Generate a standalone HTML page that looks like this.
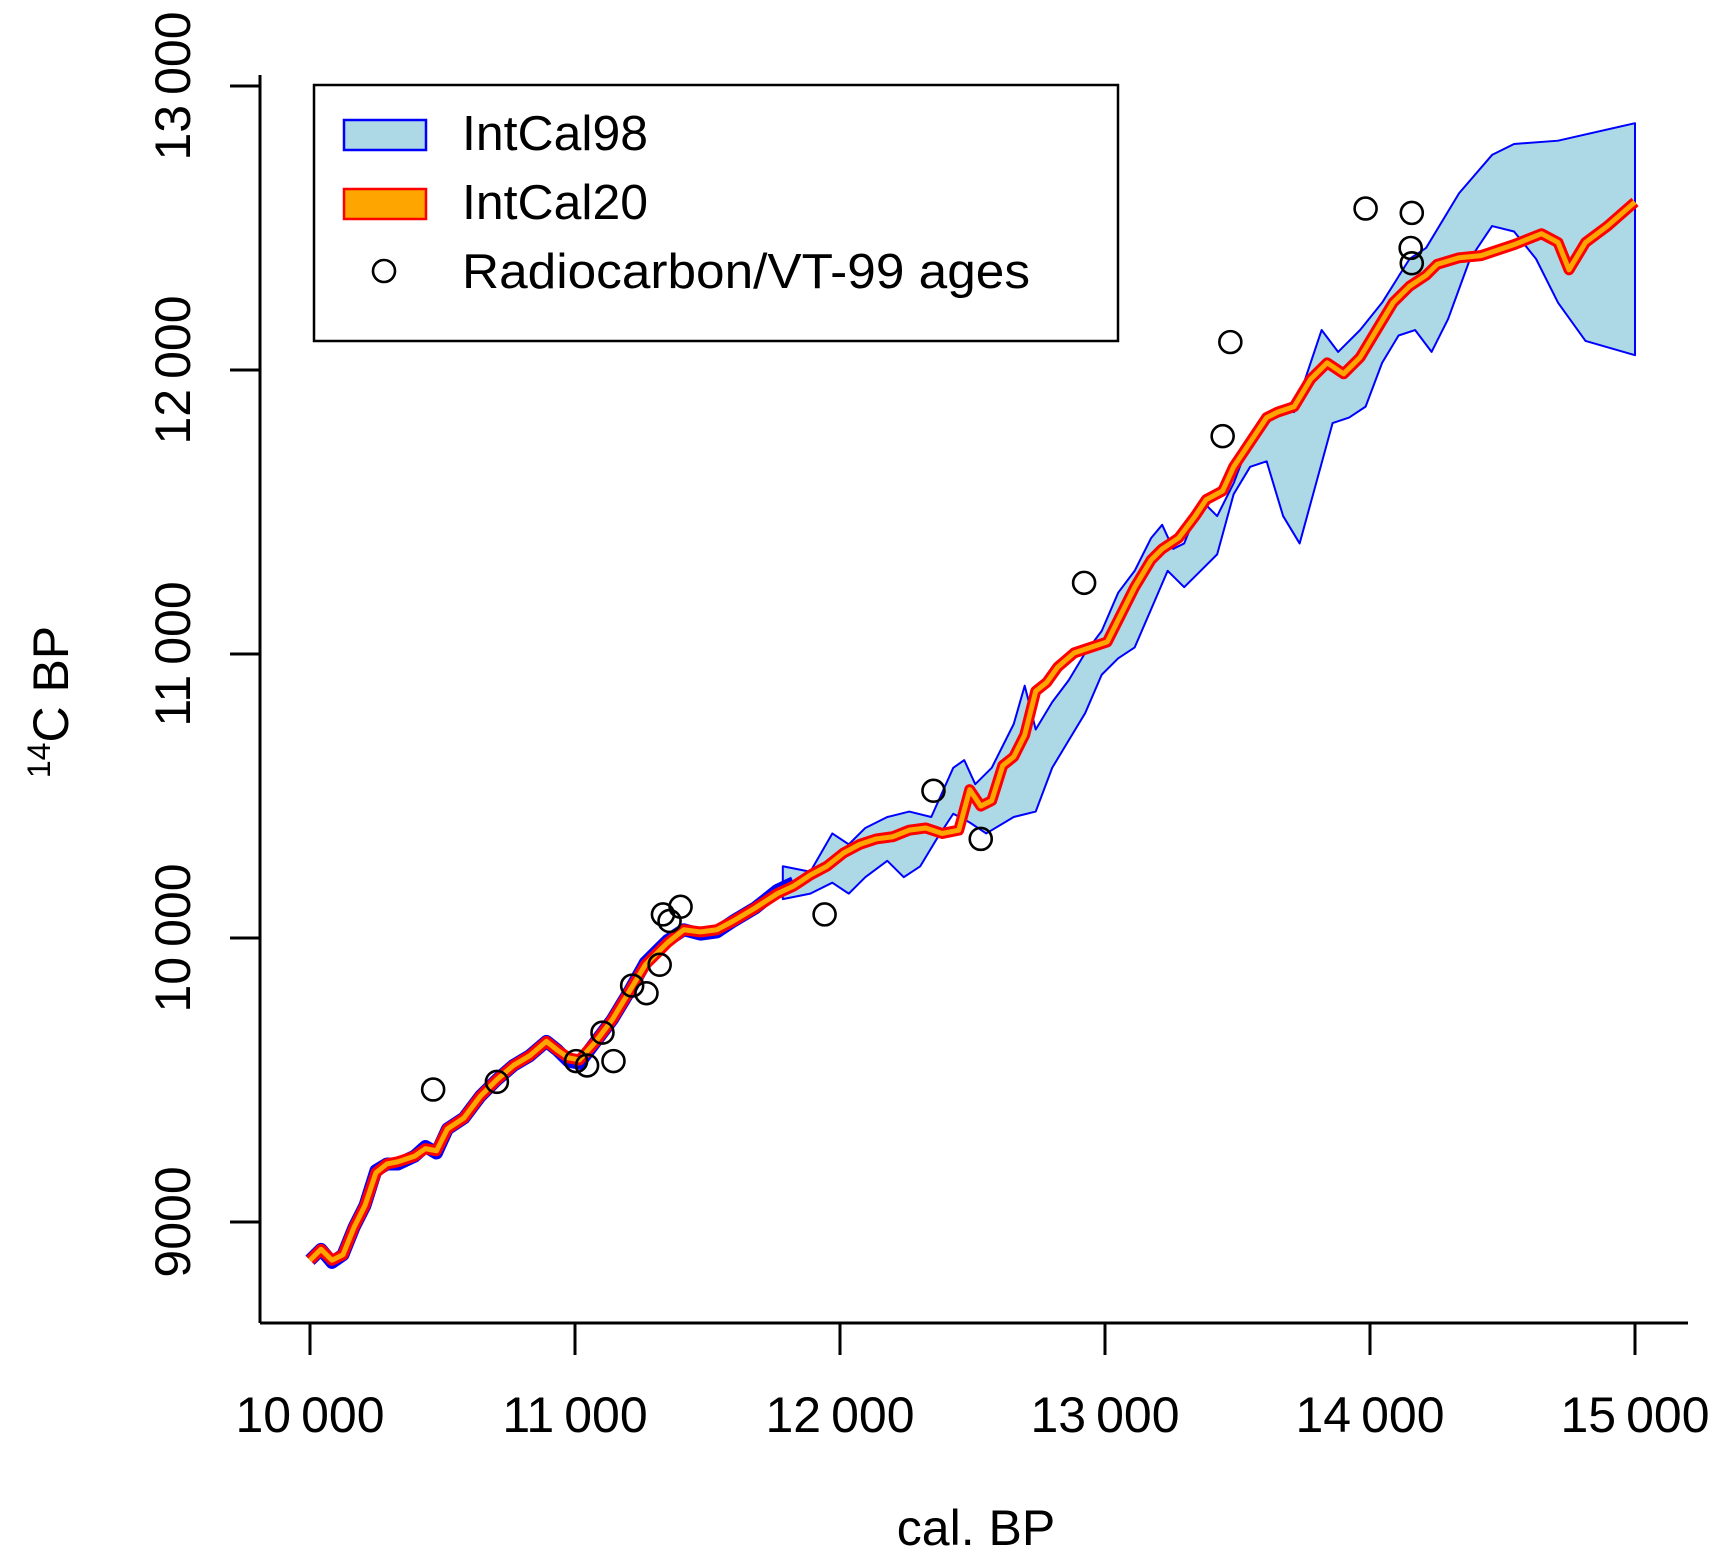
<!DOCTYPE html>
<html><head><meta charset="utf-8"><style>html,body{margin:0;padding:0;background:#fff}svg{display:block}</style></head>
<body>
<svg width="1721" height="1565" viewBox="0 0 1721 1565" xmlns="http://www.w3.org/2000/svg" font-family="Liberation Sans, sans-serif">
<rect width="1721" height="1565" fill="#fff"/>
<g transform="matrix(1.0996 0 0 1.0944 -3.4 1.7)">
<polygon fill="#add8e6" stroke="#0000ff" stroke-width="2" stroke-linejoin="round" vector-effect="non-scaling-stroke" points="715,790 740,795 760,760 775,770 790,755 810,745 830,740 850,745 870,700 880,693 890,715 905,700 925,660 935,625 945,665 960,640 975,620 990,595 1005,575 1020,540 1035,520 1050,490 1060,478 1070,500 1080,495 1090,470 1100,460 1110,470 1125,440 1140,400 1155,385 1170,370 1180,375 1195,330 1205,300 1220,320 1240,300 1260,275 1285,235 1300,225 1330,175 1360,140 1380,130 1420,127 1490,111 1490,323 1445,310 1420,275 1400,235 1380,210 1360,205 1340,235 1320,290 1305,320 1290,300 1275,305 1260,330 1245,370 1230,380 1215,385 1200,440 1185,495 1170,470 1155,420 1140,425 1125,450 1110,505 1095,520 1080,535 1065,520 1050,555 1035,590 1020,600 1005,615 990,650 975,675 960,700 945,740 925,745 900,760 885,750 870,742 855,765 840,790 825,800 810,785 790,800 775,815 760,805 740,815 715,820"/>
<polyline fill="none" stroke="#0000ff" stroke-width="13" stroke-linejoin="round" vector-effect="non-scaling-stroke" points="285,1150 295,1140 305,1152 315,1145 325,1120 335,1100 345,1068 355,1062 365,1062 380,1055 390,1046 400,1052 410,1030 425,1020 440,1000 455,985 470,972 485,963 500,950 510,958 520,968 530,970 545,950 560,930 575,905 590,878 600,868 610,858 625,848 640,852 655,850 670,840 690,828 710,812 725,805"/>
<g fill="none" stroke-linejoin="round">
<polyline stroke="#ff0000" stroke-width="11" vector-effect="non-scaling-stroke" points="285,1150 295,1140 305,1150 315,1145 325,1120 335,1100 345,1070 355,1062 365,1060 380,1055 390,1048 400,1050 410,1030 425,1020 440,1000 455,985 470,972 485,963 500,950 510,958 520,965 530,967 545,950 560,930 575,905 590,880 600,870 610,860 625,848 640,850 655,848 670,840 690,828 710,815 725,808 740,798 755,790 770,778 785,770 800,765 815,763 830,757 845,755 860,760 875,757 885,720 895,735 905,730 915,698 925,690 935,670 945,630 955,622 965,608 980,595 995,590 1010,585 1020,565 1035,535 1050,510 1060,500 1075,490 1090,470 1100,455 1115,447 1125,425 1135,410 1145,395 1155,380 1165,375 1180,370 1195,345 1210,330 1225,340 1240,325 1255,300 1270,275 1285,260 1300,250 1310,240 1330,234 1350,232 1380,222 1405,212 1420,220 1430,245 1445,220 1465,205 1490,183"/>
<polyline stroke="#ffa500" stroke-width="5" vector-effect="non-scaling-stroke" points="285,1150 295,1140 305,1150 315,1145 325,1120 335,1100 345,1070 355,1062 365,1060 380,1055 390,1048 400,1050 410,1030 425,1020 440,1000 455,985 470,972 485,963 500,950 510,958 520,965 530,967 545,950 560,930 575,905 590,880 600,870 610,860 625,848 640,850 655,848 670,840 690,828 710,815 725,808 740,798 755,790 770,778 785,770 800,765 815,763 830,757 845,755 860,760 875,757 885,720 895,735 905,730 915,698 925,690 935,670 945,630 955,622 965,608 980,595 995,590 1010,585 1020,565 1035,535 1050,510 1060,500 1075,490 1090,470 1100,455 1115,447 1125,425 1135,410 1145,395 1155,380 1165,375 1180,370 1195,345 1210,330 1225,340 1240,325 1255,300 1270,275 1285,260 1300,250 1310,240 1330,234 1350,232 1380,222 1405,212 1420,220 1430,245 1445,220 1465,205 1490,183"/>
</g>
<g fill="none" stroke="#000" stroke-width="2.6">
<circle vector-effect="non-scaling-stroke" cx="397" cy="994" r="10"/><circle vector-effect="non-scaling-stroke" cx="455" cy="987" r="10"/><circle vector-effect="non-scaling-stroke" cx="527" cy="968" r="10"/><circle vector-effect="non-scaling-stroke" cx="537" cy="972" r="10"/><circle vector-effect="non-scaling-stroke" cx="561" cy="968" r="10"/><circle vector-effect="non-scaling-stroke" cx="551" cy="942" r="10"/><circle vector-effect="non-scaling-stroke" cx="578" cy="899" r="10"/><circle vector-effect="non-scaling-stroke" cx="591" cy="906" r="10"/><circle vector-effect="non-scaling-stroke" cx="603" cy="880" r="10"/><circle vector-effect="non-scaling-stroke" cx="606" cy="834" r="10"/><circle vector-effect="non-scaling-stroke" cx="612" cy="840" r="10"/><circle vector-effect="non-scaling-stroke" cx="622" cy="827" r="10"/><circle vector-effect="non-scaling-stroke" cx="753" cy="834" r="10"/><circle vector-effect="non-scaling-stroke" cx="852" cy="721" r="10"/><circle vector-effect="non-scaling-stroke" cx="895" cy="765" r="10"/><circle vector-effect="non-scaling-stroke" cx="989" cy="531" r="10"/><circle vector-effect="non-scaling-stroke" cx="1115" cy="397" r="10"/><circle vector-effect="non-scaling-stroke" cx="1122" cy="311" r="10"/><circle vector-effect="non-scaling-stroke" cx="1245" cy="189" r="10"/><circle vector-effect="non-scaling-stroke" cx="1287" cy="193" r="10"/><circle vector-effect="non-scaling-stroke" cx="1286" cy="225" r="10"/><circle vector-effect="non-scaling-stroke" cx="1287" cy="239" r="10"/>
</g>
</g>
<g stroke="#000" stroke-width="3" fill="none">
<path d="M260,75V1323M260,1323H1688"/>
<path d="M230,86H260M230,370H260M230,654H260M230,938H260M230,1222H260"/>
<path d="M310,1323V1355M575,1323V1355M840,1323V1355M1105,1323V1355M1370,1323V1355M1635,1323V1355"/>
</g>
<g font-size="50" fill="#000" text-anchor="middle">
<text x="310" y="1432">10&#8201;000</text><text x="575" y="1432">11&#8201;000</text><text x="840" y="1432">12&#8201;000</text><text x="1105" y="1432">13&#8201;000</text><text x="1370" y="1432">14&#8201;000</text><text x="1635" y="1432">15&#8201;000</text>
<text transform="translate(190,86) rotate(-90)">13&#8201;000</text>
<text transform="translate(190,370) rotate(-90)">12&#8201;000</text>
<text transform="translate(190,654) rotate(-90)">11&#8201;000</text>
<text transform="translate(190,938) rotate(-90)">10&#8201;000</text>
<text transform="translate(190,1222) rotate(-90)">9000</text>
<text x="976" y="1545">cal. BP</text>
<text transform="translate(68,702) rotate(-90)"><tspan font-size="32" dy="-18">14</tspan><tspan dy="18">C BP</tspan></text>
</g>
<rect x="314" y="85" width="804" height="256" fill="#fff" stroke="#000" stroke-width="2.5"/>
<rect x="344" y="120" width="82" height="30" fill="#add8e6" stroke="#0000ff" stroke-width="2.5"/>
<rect x="344" y="189" width="82" height="30" fill="#ffa500" stroke="#ff0000" stroke-width="2.5"/>
<circle cx="384" cy="271" r="11" fill="none" stroke="#000" stroke-width="2.6"/>
<g font-size="49" fill="#000">
<text x="462" y="150" textLength="186" lengthAdjust="spacingAndGlyphs">IntCal98</text>
<text x="462" y="219" textLength="186" lengthAdjust="spacingAndGlyphs">IntCal20</text>
<text x="462" y="288" textLength="568" lengthAdjust="spacingAndGlyphs">Radiocarbon/VT-99 ages</text>
</g>
</svg>
</body></html>
